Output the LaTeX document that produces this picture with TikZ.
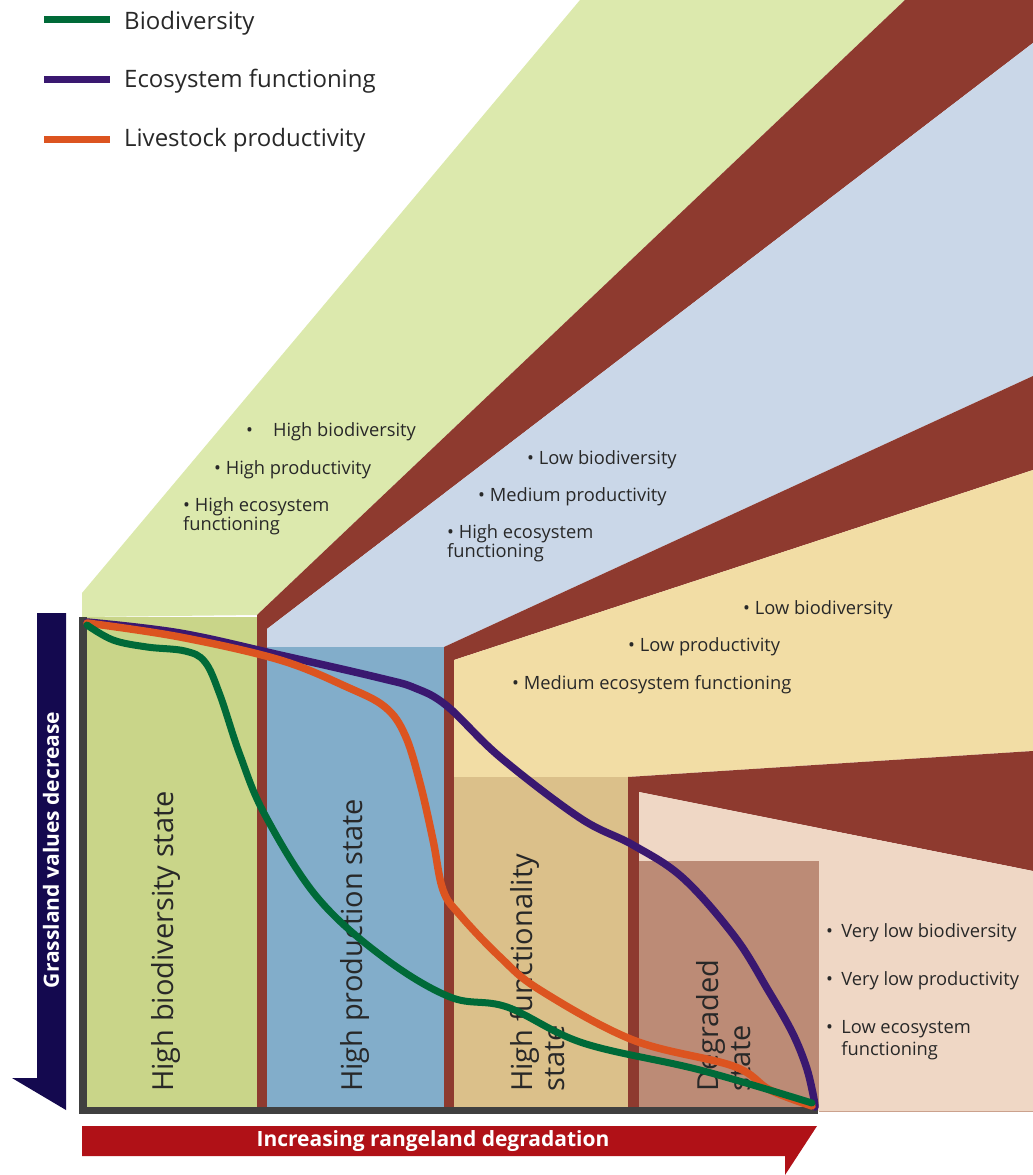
\documentclass[tikz,border=0pt]{standalone}
\usepackage{fontspec}
\setmainfont{Open Sans}
\usepackage{tikz}
\usetikzlibrary{calc,positioning}
\usepackage{xcolor}
\definecolor{fangreen}{RGB}{220,233,173}
\definecolor{boxgreen}{RGB}{201,213,137}
\definecolor{bandbrown}{RGB}{142,58,47}
\definecolor{fanblue}{RGB}{202,215,232}
\definecolor{boxblue}{RGB}{130,173,202}
\definecolor{fanyellow}{RGB}{242,221,165}
\definecolor{boxtan}{RGB}{219,192,138}
\definecolor{fanpink}{RGB}{239,215,197}
\definecolor{boxdegraded}{RGB}{188,139,118}
\definecolor{framegrey}{RGB}{64,64,64}
\definecolor{navyarrow}{RGB}{20,9,79}
\definecolor{redarrow}{RGB}{176,17,23}
\definecolor{biogreen}{RGB}{0,106,56}
\definecolor{ecopurple}{RGB}{58,24,112}
\definecolor{liveorange}{RGB}{220,84,32}
\definecolor{textgrey}{RGB}{40,40,40}

\begin{document}
\begin{tikzpicture}[x=1pt, y=-1pt,
    curve/.style={line width=7.5pt, line cap=round, line join=round},
    legendline/.style={line width=7pt},
    legendtext/.style={anchor=west, inner sep=0pt, text=textgrey, font=\fontsize{24}{26}\selectfont},
    bullettext/.style={anchor=west, inner sep=0pt, text=textgrey, align=left, font=\fontsize{18.3}{19.5}\selectfont},
    statelabel/.style={rotate=90, anchor=west, inner sep=0pt, text=textgrey, align=left, font=\fontsize{29}{32}\selectfont},
    arrowtext/.style={inner sep=0pt, text=white, font=\bfseries\fontsize{21}{23}\selectfont}]
\useasboundingbox (0,0) rectangle (1033,1175);

% Fans opening to the upper right (one per state)
\fill[fangreen] (82,617) -- (82,593) -- (580,0) -- (905,0) -- (257,615) -- cycle;
\fill[bandbrown] (257,615) -- (905,0) -- (1033,0) -- (1033,43) -- (267,629) -- (267,1108) -- (257,1108) -- cycle;
\fill[fanblue] (267,629) -- (1033,43) -- (1033,376) -- (444,647) -- (267,647) -- cycle;
\fill[bandbrown] (444,647) -- (1033,376) -- (1033,470) -- (454,660) -- (454,1108) -- (444,1108) -- cycle;
\fill[fanyellow] (454,660) -- (1033,470) -- (1033,751) -- (628,777) -- (454,777) -- cycle;
\fill[bandbrown] (628,777) -- (1033,751) -- (1033,871) -- (639,792) -- (639,1108) -- (628,1108) -- cycle;
\fill[fanpink] (639,792) -- (1033,871) -- (1033,1111) -- (639,1111) -- cycle;
\draw[boxdegraded!70!fanpink, line width=1pt] (819,1111) -- (1033,1111);

% State boxes
\fill[boxgreen] (87,617) rectangle (257,1108);
\fill[boxblue] (267,647) rectangle (444,1108);
\fill[boxtan] (454,777) rectangle (628,1108);
\fill[boxdegraded] (639,861) rectangle (819,1108);

% Axis frame
\fill[framegrey] (79,617) rectangle (87,1114);
\fill[framegrey] (79,1107) rectangle (818,1114);

% Arrows along the axes
\fill[navyarrow] (37,613) -- (66,613) -- (66,1110) -- (12,1078) -- (37,1078) -- cycle;
\node[arrowtext, rotate=90] (decrease) at (51,850) {Grassland values decrease};
\fill[redarrow] (82,1126) -- (817,1126) -- (785,1175) -- (785,1156) -- (82,1156) -- cycle;
\node[arrowtext] (degradation) at (433,1141) {Increasing rangeland degradation};

% State names
\node[statelabel] (sbio) at (166,1092) {High biodiversity state};
\node[statelabel] (sprod) at (355,1092) {High production state};
\node[statelabel] (sfunc) at (538,1092) {High functionality\\state};
\node[statelabel] (sdeg) at (724,1092) {Degraded\\state};

% Properties of each state
\node[bullettext] (g1) at (246,432) {\textbullet\hspace{20pt}High biodiversity};
\node[bullettext] (g2) at (214,470) {\textbullet\ High productivity};
\node[bullettext] (g3) at (183,516) {\textbullet\ High ecosystem\\functioning};
\node[bullettext] (b1) at (527,460) {\textbullet\ Low biodiversity};
\node[bullettext] (b2) at (478,497) {\textbullet\ Medium productivity};
\node[bullettext] (b3) at (447,543) {\textbullet\ High ecosystem\\functioning};
\node[bullettext] (y1) at (743,610) {\textbullet\ Low biodiversity};
\node[bullettext] (y2) at (628,647) {\textbullet\ Low productivity};
\node[bullettext] (y3) at (512,685) {\textbullet\ Medium ecosystem functioning};
\node[bullettext] (p1) at (826,933) {\textbullet\hspace{0.45em}Very low biodiversity};
\node[bullettext] (p2) at (826,981) {\textbullet\hspace{0.45em}Very low productivity};
\node[bullettext] (p3) at (826,1041) {\textbullet\hspace{0.45em}\begin{tabular}[t]{@{}l@{}}Low ecosystem\\[2pt]functioning\end{tabular}};

% Curves: ecosystem functioning, livestock productivity, biodiversity
\draw[curve, ecopurple] plot[smooth, tension=0.6] coordinates {(87,622) (180,633) (280,655) (380,678) (415,688) (447,706) (500,757) (580,818) (633,845) (683,878) (735,937) (768,990) (792,1032) (806,1066) (813,1094) (815,1107)};
\draw[curve, liveorange] plot[smooth, tension=0.6] coordinates {(87,623) (180,637) (280,660) (347,687) (385,707) (405,735) (420,783) (433,840) (443,890) (460,915) (500,957) (540,990) (633,1040) (733,1066) (770,1090) (812,1106)};
\draw[curve, biogreen, line width=7pt] plot[smooth, tension=0.6] coordinates {(87,625) (113,640) (147,647) (185,651) (205,662) (220,695) (240,755) (265,815) (317,897) (383,957) (450,997) (507,1007) (583,1043) (700,1070) (812,1103)};

% Legend
\node[legendtext] (legbio) at (124,23) {Biodiversity};
\node[legendtext] (legeco) at (124,81) {Ecosystem functioning};
\node[legendtext] (leglive) at (124,140) {Livestock productivity};
\draw[legendline, biogreen] ([xshift=-80pt, yshift=4pt]legbio.west) -- ([xshift=-14pt, yshift=4pt]legbio.west);
\draw[legendline, ecopurple] ([xshift=-80pt, yshift=2pt]legeco.west) -- ([xshift=-14pt, yshift=2pt]legeco.west);
\draw[legendline, liveorange] ([xshift=-80pt, yshift=1pt]leglive.west) -- ([xshift=-14pt, yshift=1pt]leglive.west);

\end{tikzpicture}
\end{document}
